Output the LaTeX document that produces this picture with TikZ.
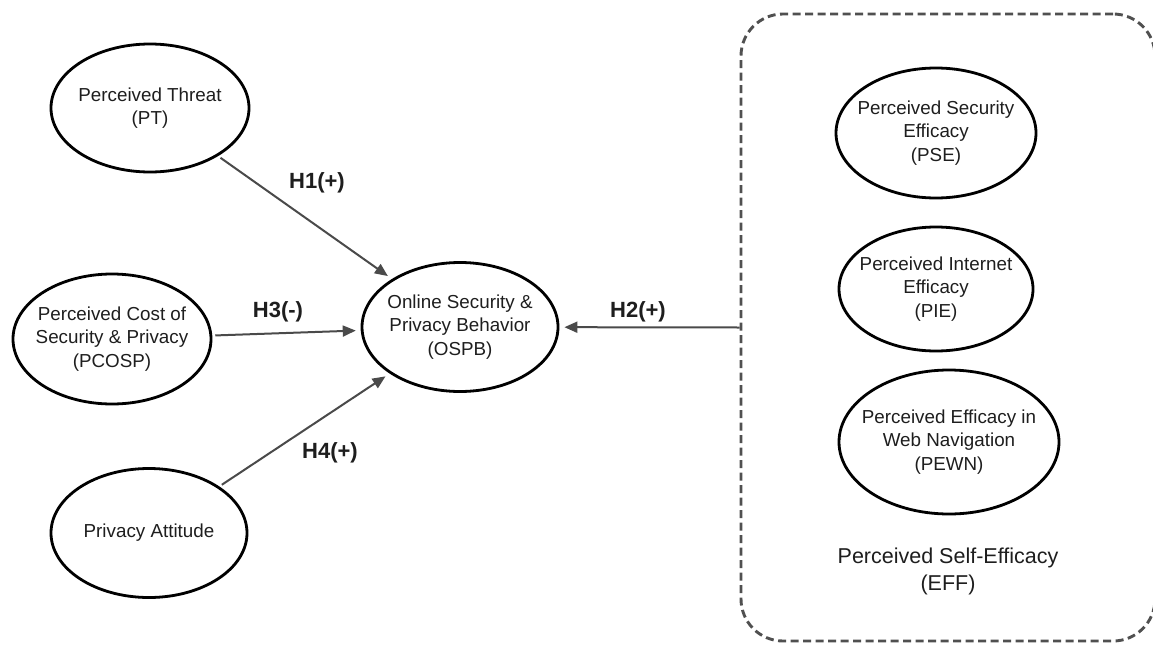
\documentclass[tikz,border=0pt]{standalone}
\usepackage{fontspec}
\setmainfont{Liberation Sans}
\usetikzlibrary{shapes.geometric,arrows.meta,shadows}
\definecolor{arrowgray}{HTML}{4A4A4A}
\definecolor{boxgray}{HTML}{505050}
\definecolor{txt}{HTML}{1E1E1E}
\begin{document}
\begin{tikzpicture}[x=1pt,y=-1pt,
  construct/.style={ellipse, draw=black, line width=2.8pt, fill=white, inner sep=0pt,
    drop shadow={opacity=0.25, shadow xshift=1pt, shadow yshift=-1.2pt}},
  ctext/.style={align=center, text=txt, inner sep=0pt, font=\fontsize{18.8}{23.3}\selectfont},
  hyp/.style={font=\bfseries\fontsize{22}{26}\selectfont, text=txt, inner sep=0pt},
  link/.style={draw=arrowgray, line width=2pt, -{Triangle[length=13pt,width=11pt]},
    shorten <=3pt, shorten >=5pt},
  groupbox/.style={draw=boxgray, line width=2.9pt, dash pattern=on 8pt off 4.5pt,
    rounded corners=42pt, inner sep=0pt}]
\useasboundingbox (0,0) rectangle (1153,645);
\fill[white] (0,0) rectangle (1153,645);

% group box
\node[groupbox, minimum width=414pt, minimum height=627pt] (eff) at (948,327.5) {};
\node[ctext, font=\fontsize{21.5}{27}\selectfont] (efflabel) at (948,571) {Perceived Self-Efficacy\\(EFF)};

% constructs
\node[construct, minimum width=198pt, minimum height=128pt,
  label={[ctext,name=ptt]center:Perceived Threat\\(PT)}] (pt) at (150,108) {};
\node[construct, minimum width=198pt, minimum height=130pt,
  label={[ctext,name=pcospt]center:Perceived Cost of\\Security \& Privacy\\(PCOSP)}] (pcosp) at (112,339) {};
\node[construct, minimum width=196pt, minimum height=129pt,
  label={[ctext,name=pat]center:Privacy Attitude}] (pa) at (149,533) {};
\node[construct, minimum width=196pt, minimum height=129pt,
  label={[ctext,name=ospbt]center:Online Security \&\\Privacy Behavior\\(OSPB)}] (ospb) at (460,327) {};

\node[construct, minimum width=200pt, minimum height=130pt,
  label={[ctext,name=pset]center:Perceived Security\\Efficacy\\(PSE)}] (pse) at (936,133) {};
\node[construct, minimum width=194pt, minimum height=124pt,
  label={[ctext,name=piet]center:Perceived Internet\\Efficacy\\(PIE)}] (pie) at (936,289) {};
\node[construct, minimum width=220pt, minimum height=144pt,
  label={[ctext,name=pewnt]center:Perceived Efficacy in\\Web Navigation\\(PEWN)}] (pewn) at (949,442) {};

% connectors
\draw[link] (pt) -- (ospb);
\draw[link] (pcosp) -- (ospb);
\draw[link] (pa) -- (ospb);
\draw[link, shorten <=0pt] (eff.west) -- (ospb);

% hypothesis labels
\node[hyp] (h1) at (317,183) {H1(+)};
\node[hyp] (h3) at (278,312) {H3(-)};
\node[hyp] (h4) at (330,453) {H4(+)};
\node[hyp] (h2) at (638,312) {H2(+)};
\end{tikzpicture}
\end{document}
